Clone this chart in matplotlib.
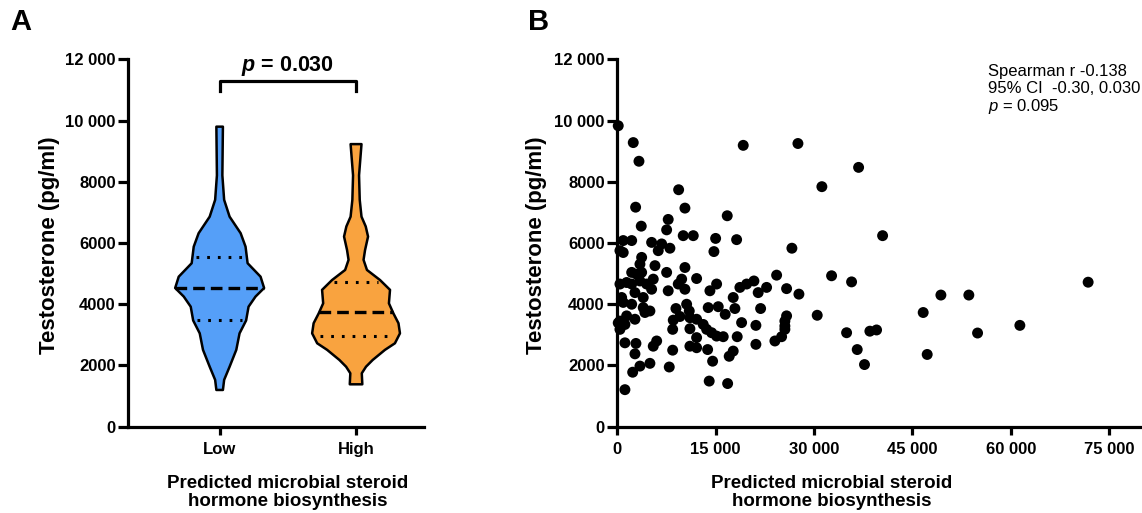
import numpy as np
import matplotlib.pyplot as plt

plt.rcParams['font.family'] = ['Liberation Sans', 'DejaVu Sans']
plt.rcParams['mathtext.fontset'] = 'custom'
plt.rcParams['mathtext.rm'] = 'Liberation Sans'
plt.rcParams['mathtext.it'] = 'Liberation Sans:italic'
plt.rcParams['mathtext.bf'] = 'Liberation Sans:bold'
plt.rcParams['mathtext.bfit'] = 'Liberation Sans:bold:italic'

### panel A data: violin outlines (testosterone level, half width in category units)
groups = ['Low', 'High']
group_colors = ['#559ff8', '#f9a33f']

low_levels = [1200, 1530, 1960, 2510, 3050, 3470, 3920, 4250, 4530, 4900, 5340, 5880, 6320, 6860, 7410, 8210, 9800]
low_width = [0.024, 0.033, 0.073, 0.122, 0.146, 0.194, 0.212, 0.263, 0.326, 0.300, 0.205, 0.190, 0.154, 0.073, 0.033, 0.020, 0.024]

high_levels = [1385, 1745, 1960, 2180, 2510, 2725, 3050, 3380, 3700, 4030, 4470, 4790, 5120, 5450, 5770, 6210, 6540, 6860, 7410, 8210, 9230]
high_width = [0.046, 0.042, 0.073, 0.122, 0.212, 0.285, 0.322, 0.311, 0.274, 0.241, 0.249, 0.176, 0.080, 0.055, 0.066, 0.088, 0.071, 0.040, 0.027, 0.022, 0.040]

medians = [4530, 3740]
q1 = [3470, 2960]
q3 = [5530, 4720]

### panel B data
steroid_pred = [150, 2440, 3310, 19210, 27550, 36800, 31200, 9360, 2800, 10320,
                16770, 7770, 3660, 7530, 40460, 910, 2200, 10060, 11590, 15000,
                18200, 5240, 6770, 6250, 8030, 410, 910, 14740, 26630, 3720,
                3460, 5750, 10320, 7530, 2200, 3720, 2960, 24300, 32680, 5490,
                9820, 12100, 35730, 410, 1430, 2200, 3460, 9300, 15150, 18700,
                19730, 20840, 22770, 25820, 4480, 5240, 7770, 10320, 14130, 2700,
                21490, 27700, 670, 3960, 17680, 910, 2200, 10580, 15400, 13870,
                3960, 8950, 17940, 21860, 10980, 4980, 4220, 1430, 16460, 30490,
                25820, 9560, 11080, 12100, 2700, 8540, 410, 25560, 18960, 13110,
                1170, 21140, 25560, 8450, 11080, 13630, 410, 25560, 39540, 38520,
                14390, 34970, 15150, 16160, 18290, 12100, 25060, 24040, 1170, 2850,
                6010, 5490, 21140, 11080, 12100, 8450, 13780, 36590, 2700, 17680,
                17070, 14540, 4980, 3460, 7930, 37700, 2350, 14020, 16830, 1170,
                71800, 49350, 53610, 46650, 61390, 54940, 47260, 150]
testosterone = [9830, 9280, 8670, 9190, 9250, 8470, 7840, 7740, 7170, 7140,
                6890, 6770, 6550, 6430, 6240, 6080, 6080, 6240, 6240, 6150,
                6110, 6020, 5970, 5750, 5830, 5750, 5690, 5720, 5830, 5530,
                5310, 5260, 5200, 5040, 5040, 5040, 4980, 4950, 4930, 4820,
                4820, 4840, 4730, 4660, 4710, 4660, 4760, 4660, 4660, 4550,
                4660, 4760, 4550, 4510, 4660, 4490, 4440, 4490, 4440, 4380,
                4380, 4330, 4220, 4220, 4220, 4060, 4000, 4000, 3920, 3890,
                3890, 3860, 3860, 3860, 3780, 3780, 3730, 3620, 3670, 3640,
                3620, 3600, 3560, 3510, 3510, 3480, 3450, 3450, 3400, 3340,
                3340, 3310, 3290, 3180, 3200, 3180, 3180, 3180, 3160, 3120,
                3070, 3070, 2960, 2940, 2940, 2910, 2940, 2800, 2740, 2720,
                2800, 2630, 2690, 2630, 2580, 2500, 2520, 2520, 2380, 2470,
                2300, 2140, 2070, 1980, 1950, 2030, 1780, 1490, 1410, 1210,
                4720, 4300, 4300, 3730, 3310, 3060, 2360, 3390]

y_ticks = [0, 2000, 4000, 6000, 8000, 10000, 12000]
y_ticklabels = ['0', '2000', '4000', '6000', '8000', '10 000', '12 000']
x_ticks_b = [0, 15000, 30000, 45000, 60000, 75000]
x_ticklabels_b = ['0', '15 000', '30 000', '45 000', '60 000', '75 000']

fig = plt.figure(figsize=(11.42, 5.13), dpi=100)
axA = fig.add_axes([0.1123, 0.1682, 0.2592, 0.7162])
axB = fig.add_axes([0.5405, 0.1682, 0.4577, 0.7162])


def style_axis(ax):
	for s in ['top', 'right']:
		ax.spines[s].set_visible(False)
	for s in ['left', 'bottom']:
		ax.spines[s].set_linewidth(2.3)
	ax.tick_params(axis='y', length=7, width=2.3, pad=2, labelsize=12)
	ax.tick_params(axis='x', length=6, width=2.3, pad=5, labelsize=12)
	for lab in ax.get_xticklabels() + ax.get_yticklabels():
		lab.set_fontweight('bold')


### panel A
outlines = [(low_levels, low_width), (high_levels, high_width)]
for i, (lev, wid) in enumerate(outlines):
	lev = np.array(lev, float)
	wid = np.array(wid, float)
	xs = np.concatenate([i - wid, (i + wid)[::-1]])
	ys = np.concatenate([lev, lev[::-1]])
	axA.fill(xs, ys, facecolor=group_colors[i], edgecolor='black', lw=1.8, joinstyle='round', zorder=2)
	w = np.interp(medians[i], lev, wid)
	axA.plot([i - w, i + w], [medians[i]] * 2, color='black', lw=2.4, ls=(0, (3.5, 1.8)), zorder=3)
	for q in (q1[i], q3[i]):
		w = np.interp(q, lev, wid) * 0.85
		axA.plot([i - w, i + w], [q] * 2, color='black', lw=2.2, ls=(0, (0.9, 2.6)), zorder=3)

axA.set_xlim(-0.67, 1.5)
axA.set_ylim(0, 12000)
axA.set_xticks([0, 1])
axA.set_xticklabels(groups)
axA.set_yticks(y_ticks)
axA.set_yticklabels(y_ticklabels)
style_axis(axA)

# significance bracket
axA.plot([0, 0, 1, 1], [10950, 11300, 11300, 10950], color='black', lw=2.3, clip_on=False)
axA.text(0.5, 11780, r'$\mathbfit{p}$ = 0.030', ha='center', va='center', fontsize=15.5, fontweight='bold')

axA.text(-0.2645, 0.495, 'Testosterone (pg/ml)', transform=axA.transAxes, rotation=90,
	ha='center', va='center', fontsize=16, fontweight='bold')
axA.text(0.539, -0.179, 'Predicted microbial steroid\nhormone biosynthesis', transform=axA.transAxes,
	ha='center', va='center', fontsize=13.5, fontweight='bold', linespacing=1.05)

### panel B
axB.scatter(steroid_pred, testosterone, s=62, color='black', edgecolors='none', clip_on=False, zorder=3)
axB.set_xlim(0, 79700)
axB.set_ylim(0, 12000)
axB.set_xticks(x_ticks_b)
axB.set_xticklabels(x_ticklabels_b)
axB.set_yticks(y_ticks)
axB.set_yticklabels(y_ticklabels)
style_axis(axB)

axB.text(-0.1536, 0.495, 'Testosterone (pg/ml)', transform=axB.transAxes, rotation=90,
	ha='center', va='center', fontsize=16, fontweight='bold')
axB.text(0.411, -0.179, 'Predicted microbial steroid\nhormone biosynthesis', transform=axB.transAxes,
	ha='center', va='center', fontsize=13.5, fontweight='bold', linespacing=1.05)
axB.text(0.709, 0.986, 'Spearman r -0.138\n95% CI  -0.30, 0.030\n' + r'$\mathit{p}$ = 0.095',
	transform=axB.transAxes, ha='left', va='top', fontsize=12, linespacing=1.1)

fig.text(21 / 1142, 1 - 22 / 513, 'A', ha='center', va='center', fontsize=21, fontweight='bold')
fig.text(539 / 1142, 1 - 22 / 513, 'B', ha='center', va='center', fontsize=21, fontweight='bold')

fig.savefig('out.png', dpi=100)
